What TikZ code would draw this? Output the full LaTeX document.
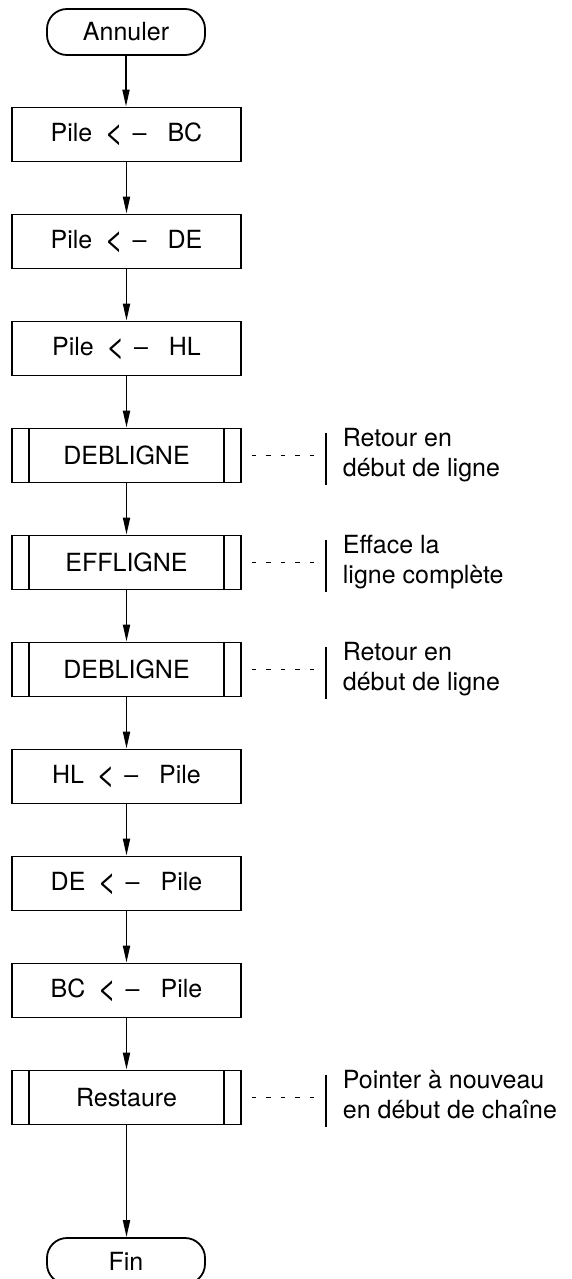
\documentclass[tikz,border=0pt]{standalone}
\usepackage{fontspec}
\setmainfont{TeX Gyre Heros}
\usetikzlibrary{arrows.meta}
% spacing and size of the transfer sign "< –"
\newcommand{\pilegets}{\hspace{12pt}\raisebox{-2pt}{\fontsize{33pt}{30pt}\selectfont<}\hspace{9pt}–\hspace{21pt}}
\begin{document}
\begin{tikzpicture}[x=1pt,y=-1pt,line width=1.8pt,
  every node/.style={font=\fontsize{25pt}{30pt}\selectfont},
  term/.style={draw,rounded corners=20pt,minimum width=158pt,minimum height=46pt,inner sep=0pt},
  proc/.style={draw,minimum width=229pt,minimum height=54pt,inner sep=0pt},
  sub/.style={proc,path picture={
      \draw ([xshift=17pt]path picture bounding box.north west) -- ([xshift=17pt]path picture bounding box.south west)
            ([xshift=-17pt]path picture bounding box.north east) -- ([xshift=-17pt]path picture bounding box.south east);}},
  flow/.style={-{Triangle[length=17pt,width=7pt]}},
  leader/.style={line width=1.4pt,dash pattern=on 4.5pt off 10pt},
  bar/.style={line width=1.6pt},
  note/.style={anchor=north west,align=left,inner sep=0pt}]
\useasboundingbox (0,0) rectangle (572,1279);

% main sequence
\node[term] (start) at (126,32) {Annuler};
\node[proc] (p1) at (126.5,134.5) {Pile\pilegets BC};
\node[proc] (p2) at (126.5,241.5) {Pile\pilegets DE};
\node[proc] (p3) at (126.5,348.5) {Pile\pilegets HL};
\node[sub]  (s1) at (126.5,455.5) {DEBLIGNE};
\node[sub]  (s2) at (126.5,562.5) {EFFLIGNE};
\node[sub]  (s3) at (126.5,669.5) {DEBLIGNE};
\node[proc] (p4) at (126.5,776.5) {HL\pilegets Pile};
\node[proc] (p5) at (126.5,883.5) {DE\pilegets Pile};
\node[proc] (p6) at (126.5,990.5) {BC\pilegets Pile};
\node[sub]  (s4) at (126.5,1097.5) {Restaure};
\node[term] (stop) at (126,1261) {Fin};

\draw[flow] (start) -- (start |- p1.north);
\foreach \a/\b in {p1/p2,p2/p3,p3/s1,s1/s2,s2/s3,s3/p4,p4/p5,p5/p6,p6/s4}
  \draw[flow] (\a) -- (\b);
\draw[flow] (s4) -- (s4 |- stop.north);

% comments on the subroutine calls
\foreach \s/\y/\first/\second in {
    s1/455.5/Retour en/début de ligne,
    s2/562.5/Efface la/ligne complète,
    s3/669.5/Retour en/début de ligne,
    s4/1097.5/Pointer à nouveau/en début de chaîne}{
  \coordinate (\s-bar) at (326,\y+3);
  \draw[bar] (326,\y-23) -- (326,\y+29);
  \draw[leader] ([xshift=10pt]\s.east) -- ([xshift=-11pt]\s.east -| \s-bar);
  \node[note] (\s-note) at (342,\y-28) {\first\\\second};
}
\end{tikzpicture}
\end{document}
